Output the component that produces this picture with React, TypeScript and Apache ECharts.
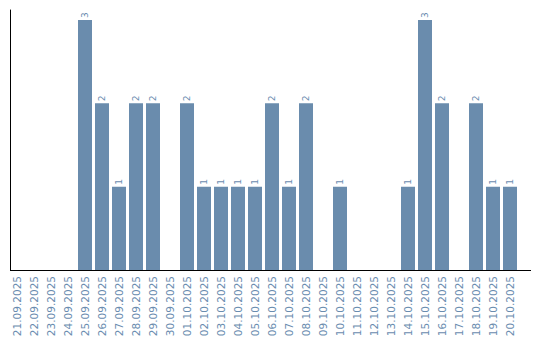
import React, { useEffect, useRef } from "react";
import * as echarts from "echarts";

const categories = [
  "21.09.2025", "22.09.2025", "23.09.2025", "24.09.2025", "25.09.2025",
  "26.09.2025", "27.09.2025", "28.09.2025", "29.09.2025", "30.09.2025",
  "01.10.2025", "02.10.2025", "03.10.2025", "04.10.2025", "05.10.2025",
  "06.10.2025", "07.10.2025", "08.10.2025", "09.10.2025", "10.10.2025",
  "11.10.2025", "12.10.2025", "13.10.2025", "14.10.2025", "15.10.2025",
  "16.10.2025", "17.10.2025", "18.10.2025", "19.10.2025", "20.10.2025",
];
const counts = [0, 0, 0, 0, 3, 2, 1, 2, 2, 0, 2, 1, 1, 1, 1, 2, 1, 2, 0, 1, 0, 0, 0, 1, 3, 2, 0, 2, 1, 1];

const BAR = "#6a8cad";
const TEXT = "#6a8caf";

export default function App() {
  const ref = useRef<HTMLDivElement>(null);
  useEffect(() => {
    const chart = echarts.init(ref.current!, null, { renderer: "svg" });
    chart.setOption({
      animation: false,
      grid: { left: 8.5, right: 21.5, top: 10, bottom: 70, containLabel: false },
      graphic: [
        {
          type: "line",
          shape: { x1: 10, y1: 270.5, x2: 531, y2: 270.5 },
          style: { stroke: "#000", lineWidth: 1 },
          z: 10,
        },
      ],
      xAxis: {
        type: "category",
        data: categories,
        axisLine: { show: false },
        axisTick: { show: false },
        axisLabel: {
          rotate: 90,
          interval: 0,
          color: TEXT,
          fontFamily: "DejaVu Sans",
          fontSize: 10.5,
          margin: 6,
        },
      },
      yAxis: {
        type: "value",
        min: 0,
        max: 3.12,
        offset: -1.5,
        axisLine: { show: true, lineStyle: { color: "#000", width: 1 } },
        axisTick: { show: false },
        axisLabel: { show: false },
        splitLine: { show: false },
      },
      series: [
        {
          type: "bar",
          data: counts,
          barWidth: 14,
          itemStyle: { color: BAR },
          label: {
            show: true,
            position: "top",
            rotate: 90,
            align: "left",
            verticalAlign: "middle",
            distance: 2,
            color: TEXT,
            fontFamily: "DejaVu Sans",
            fontSize: 9,
            formatter: (p: any) => (p.value ? String(p.value) : ""),
          },
        },
      ],
    });
    return () => chart.dispose();
  }, []);
  return <div ref={ref} style={{ width: 540, height: 340, position: "absolute", left: 0, top: 0 }} />;
}
